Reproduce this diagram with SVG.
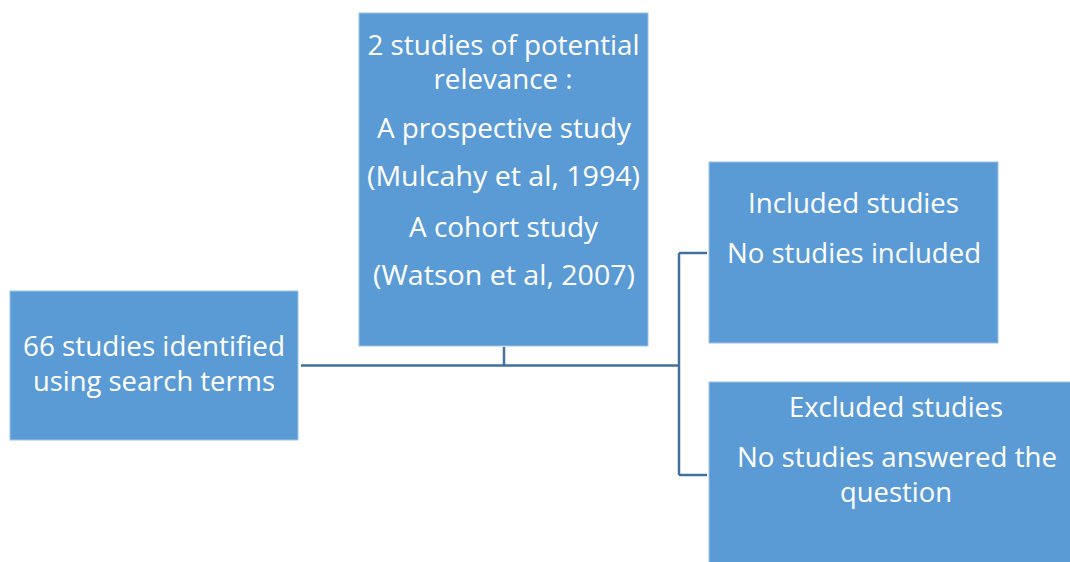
<svg xmlns="http://www.w3.org/2000/svg" width="1070" height="562" viewBox="0 0 1070 562">
<style>
.box{fill:#5b9bd5;stroke:#9dc3e6;stroke-width:1}
.t{font-family:"Open Sans","Noto Sans",sans-serif;font-size:27px;fill:#ffffff;text-anchor:middle}
.c{fill:none;stroke:#41719c;stroke-width:2.5}
</style>
<rect width="1070" height="562" fill="#ffffff"/>
<g id="connectors">
<path class="c" d="M301,365.5 H679"/>
<path class="c" d="M504,347 V365"/>
<path class="c" d="M679,253 V475"/>
<path class="c" d="M679,253 H707"/>
<path class="c" d="M679,475 H707"/>
</g>
<g id="node-search">
<rect class="box" x="10" y="291" width="288" height="149"/>
<text class="t" x="154" y="356" textLength="262" lengthAdjust="spacingAndGlyphs">66 studies identified</text>
<text class="t" x="154" y="391" textLength="242" lengthAdjust="spacingAndGlyphs">using search terms</text>
</g>
<g id="node-potential">
<rect class="box" x="359" y="13" width="289" height="333"/>
<text class="t" x="503.5" y="55" textLength="272" lengthAdjust="spacingAndGlyphs">2 studies of potential</text>
<text class="t" x="503" y="89" textLength="139" lengthAdjust="spacingAndGlyphs">relevance :</text>
<text class="t" x="504" y="138" textLength="254" lengthAdjust="spacingAndGlyphs">A prospective study</text>
<text class="t" x="503.5" y="186" textLength="273" lengthAdjust="spacingAndGlyphs">(Mulcahy et al, 1994)</text>
<text class="t" x="503.5" y="237" textLength="189" lengthAdjust="spacingAndGlyphs">A cohort study</text>
<text class="t" x="504" y="285" textLength="262" lengthAdjust="spacingAndGlyphs">(Watson et al, 2007)</text>
</g>
<g id="node-included">
<rect class="box" x="709" y="162" width="289" height="181"/>
<text class="t" x="853.5" y="213" textLength="211" lengthAdjust="spacingAndGlyphs">Included studies</text>
<text class="t" x="854" y="263" textLength="254" lengthAdjust="spacingAndGlyphs">No studies included</text>
</g>
<g id="node-excluded">
<rect class="box" x="709" y="382" width="370" height="190"/>
<text class="t" x="896" y="417" textLength="214" lengthAdjust="spacingAndGlyphs">Excluded studies</text>
<text class="t" x="897" y="467" textLength="320" lengthAdjust="spacingAndGlyphs">No studies answered the</text>
<text class="t" x="896" y="502" textLength="112" lengthAdjust="spacingAndGlyphs">question</text>
</g>
</svg>
